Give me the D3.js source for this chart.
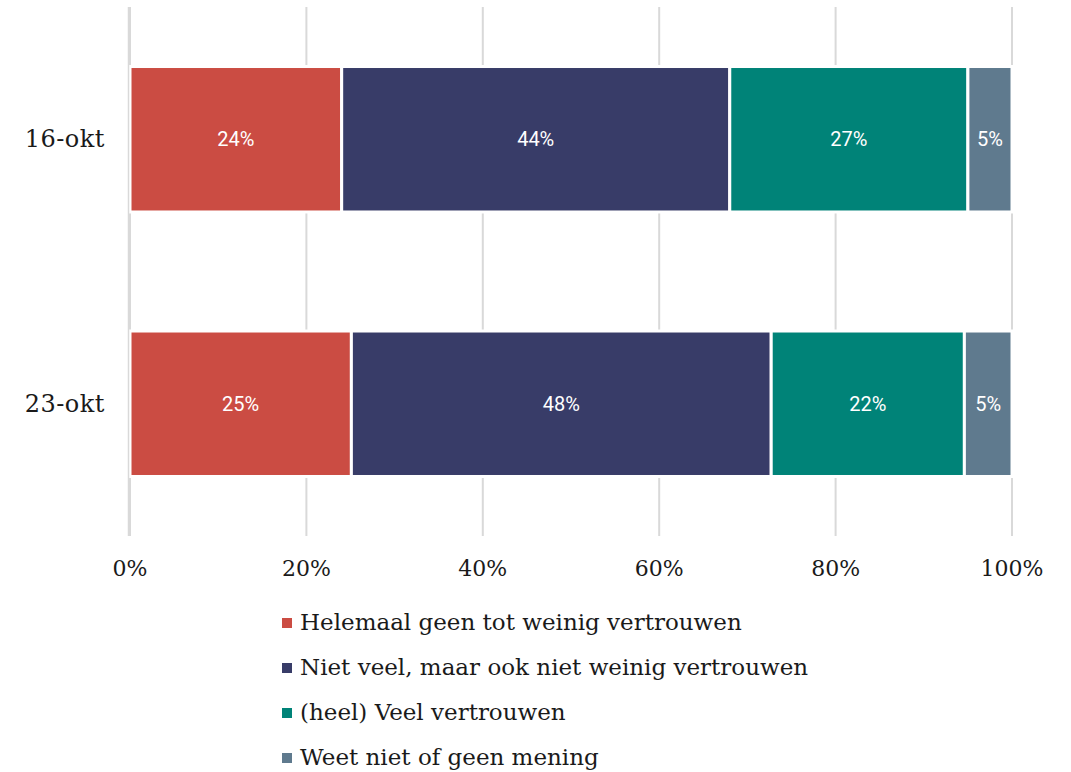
<!DOCTYPE html>
<html>
<head>
<meta charset="utf-8">
<script src="https://cdn.jsdelivr.net/npm/d3@7"></script>
<style>
  body { margin: 0; background: #fff; }
  svg { display: block; }
</style>
</head>
<body>
<svg id="chart" width="1071" height="772"></svg>
<script>
// data
var dates = ["16-okt", "23-okt"];
var seriesNames = [
  "Helemaal geen tot weinig vertrouwen",
  "Niet veel, maar ook niet weinig vertrouwen",
  "(heel) Veel vertrouwen",
  "Weet niet of geen mening"
];
var seriesColors = ["#cb4c43", "#383c68", "#008378", "#5f7a8e"];
var geenTotWeinig = [24.0, 25.1];
var nietVeelNietWeinig = [44.0, 47.6];
var veel = [27.0, 21.9];
var weetNiet = [5.0, 5.4];
var xTicks = [0, 20, 40, 60, 80, 100];

var serif = "'DejaVu Serif', 'Liberation Serif', serif";
var sans = "Roboto, 'Noto Sans', sans-serif";

var rows = dates.map(function(d, i) {
  return { date: d, s0: geenTotWeinig[i], s1: nietVeelNietWeinig[i], s2: veel[i], s3: weetNiet[i] };
});
var keys = ["s0", "s1", "s2", "s3"];
var stacked = d3.stack().keys(keys)(rows);

var svg = d3.select("#chart");

var x = d3.scaleLinear().domain([0, 100]).range([130, 1012]);
var y = d3.scaleBand().domain(dates).range([7, 536]).paddingInner(0.45).paddingOuter(0.225);

// gridlines
svg.append("g").selectAll("line")
  .data(xTicks)
  .enter().append("line")
  .attr("x1", function(d) { return x(d); })
  .attr("x2", function(d) { return x(d); })
  .attr("y1", y.range()[0])
  .attr("y2", y.range()[1])
  .attr("stroke", "#d9d9d9")
  .attr("stroke-width", 2);

// bars
var layer = svg.append("g").selectAll("g")
  .data(stacked)
  .enter().append("g")
  .attr("fill", function(d, i) { return seriesColors[i]; });

layer.selectAll("rect")
  .data(function(d) { return d; })
  .enter().append("rect")
  .attr("x", function(d) { return x(d[0]); })
  .attr("width", function(d) { return x(d[1]) - x(d[0]); })
  .attr("y", function(d) { return y(d.data.date); })
  .attr("height", y.bandwidth())
  .attr("stroke", "#fff")
  .attr("stroke-width", 3);

layer.selectAll("text")
  .data(function(d) { return d; })
  .enter().append("text")
  .attr("x", function(d) { return (x(d[0]) + x(d[1])) / 2; })
  .attr("y", function(d) { return y(d.data.date) + y.bandwidth() / 2 + 7; })
  .attr("text-anchor", "middle")
  .attr("fill", "#fff")
  .style("font-family", sans)
  .style("font-size", "20px")
  .text(function(d) { return Math.round(d[1] - d[0]) + "%"; });

// zero line stays visible beside the bars
svg.append("line")
  .attr("x1", x(0) - 1.5)
  .attr("x2", x(0) - 1.5)
  .attr("y1", y.range()[0])
  .attr("y2", y.range()[1])
  .attr("stroke", "#d9d9d9")
  .attr("stroke-width", 1.5);

// x tick labels
svg.append("g").selectAll("text")
  .data(xTicks)
  .enter().append("text")
  .attr("x", function(d) { return x(d); })
  .attr("y", 576)
  .attr("text-anchor", "middle")
  .attr("fill", "#1a1a1a")
  .style("font-family", serif)
  .style("font-size", "22px")
  .text(function(d) { return d + "%"; });

// category labels
svg.append("g").selectAll("text")
  .data(dates)
  .enter().append("text")
  .attr("x", 105)
  .attr("y", function(d) { return y(d) + y.bandwidth() / 2 + 8; })
  .attr("text-anchor", "end")
  .attr("fill", "#1a1a1a")
  .style("font-family", serif)
  .style("font-size", "24px")
  .style("letter-spacing", "0.5px")
  .text(function(d) { return d; });

// legend
var legend = svg.append("g").selectAll("g")
  .data(seriesNames)
  .enter().append("g")
  .attr("transform", function(d, i) { return "translate(282," + (630 + i * 45) + ")"; });

legend.append("rect")
  .attr("x", 0)
  .attr("y", -12)
  .attr("width", 10)
  .attr("height", 10)
  .attr("fill", function(d, i) { return seriesColors[i]; });

legend.append("text")
  .attr("x", 18)
  .attr("y", 0)
  .attr("fill", "#1a1a1a")
  .style("font-family", serif)
  .style("font-size", "23px")
  .text(function(d) { return d; });
</script>
</body>
</html>
